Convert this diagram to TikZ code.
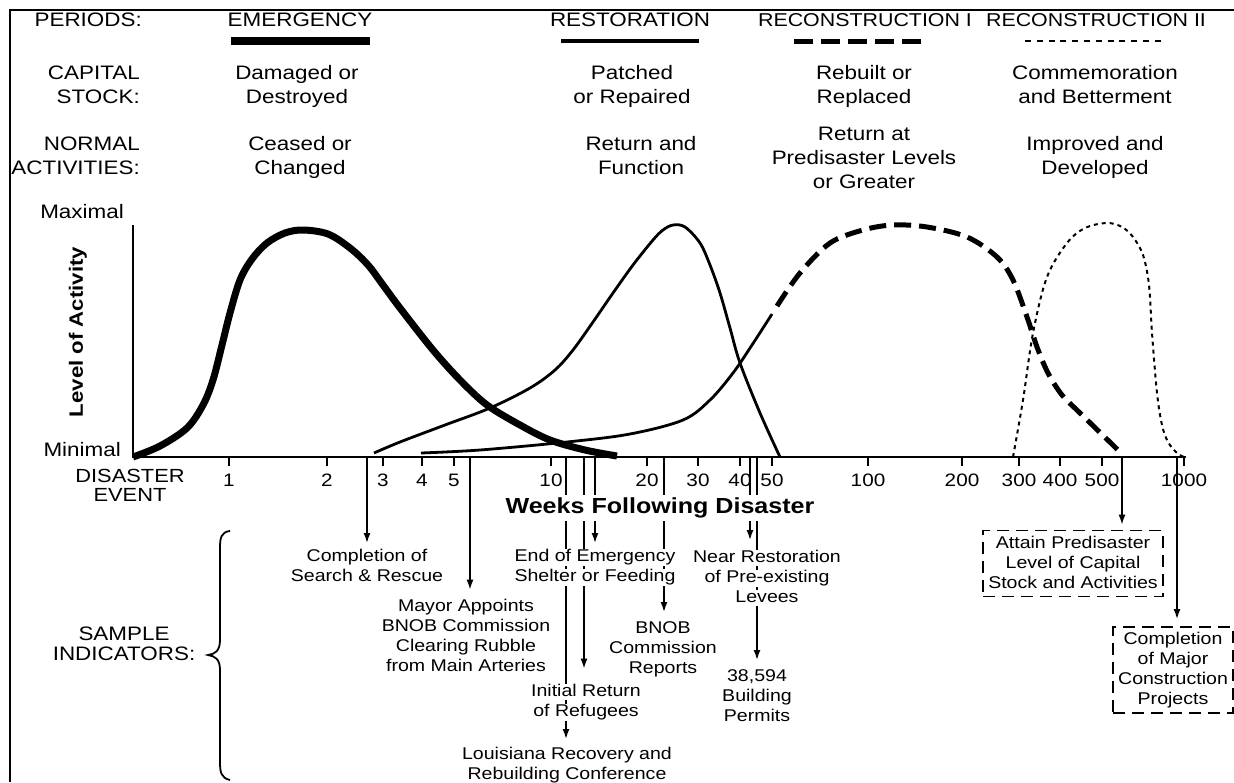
\documentclass[tikz,border=0pt]{standalone}
\usepackage{fontspec}
\setmainfont{Liberation Sans}[FakeStretch=1.15]
\usetikzlibrary{arrows.meta,calc}
\pgfdeclarelayer{back}
\pgfsetlayers{back,main}
\setlength{\fboxsep}{0.5pt}
\newcommand{\wbx}[1]{\colorbox{white}{\rule[-3pt]{0pt}{15pt}#1}}
\newcommand{\hst}{\rule{0pt}{14pt}}
\newcommand{\sst}{\rule[-3.5pt]{0pt}{16pt}}
\tikzset{
 hdr/.style={font=\fontsize{19.5}{24}\selectfont, inner sep=0pt, align=center, anchor=north},
 hdrr/.style={hdr, align=right, anchor=north east},
 ind/.style={font=\fontsize{17}{20}\selectfont, inner sep=0pt, align=center, anchor=north},
 dbox/.style={font=\fontsize{17}{20}\selectfont, draw, line width=1.8pt, dash pattern=on 12pt off 7pt, fill=white, align=center, inner xsep=5pt, inner ysep=5pt},
 tlab/.style={font=\fontsize{18}{20}\selectfont, inner sep=0pt},
 arr/.style={line width=1.5pt, -{Latex[length=10pt,width=7pt]}},
 axisline/.style={line width=1.6pt},
 emerg/.style={line width=7pt},
 resto/.style={line width=2.8pt},
 reconA/.style={line width=5pt, dash pattern=on 17pt off 8pt},
 reconB/.style={line width=2pt, dash pattern=on 4pt off 4pt},
}
\begin{document}
\begin{tikzpicture}[x=1pt,y=-1pt]
\useasboundingbox (0,0) rectangle (1234,782);
\begin{pgfonlayer}{back}
\fill[white] (0,0) rectangle (1234,782);
\end{pgfonlayer}
% frame
\draw[line width=2.5pt] (10,782) -- (10,10) -- (1234,10);
% header row
\node[hdrr] (hper) at (142,13) {PERIODS:};
\node[hdr] (hem) at (300,13) {EMERGENCY};
\node[hdr] (hre) at (630,13) {RESTORATION};
\node[hdr, font=\fontsize{18.6}{24}\selectfont] (hr1) at (865,13.5) {RECONSTRUCTION I};
\node[hdr, font=\fontsize{18.6}{24}\selectfont] (hr2) at (1096,13.5) {RECONSTRUCTION II};
\draw[line width=8pt] (231,41) -- (370,41);
\draw[line width=3.5pt] (561,41) -- (699,41);
\draw[line width=5pt, dash pattern=on 19pt off 8pt] (794,41) -- (924,41);
\draw[line width=2pt, dash pattern=on 6pt off 5.8pt] (1025,41) -- (1165,41);
% capital stock
\node[hdrr] (hcap) at (140,65) {\hst CAPITAL\\STOCK:};
\node[hdr] (cem) at (297,65) {\hst Damaged or\\Destroyed};
\node[hdr] (cre) at (632,65) {\hst Patched\\or Repaired};
\node[hdr] (cr1) at (864,65) {\hst Rebuilt or\\Replaced};
\node[hdr] (cr2) at (1095,65) {\hst Commemoration\\and Betterment};
% normal activities
\node[hdrr] (hnor) at (140,136) {\hst NORMAL\\ACTIVITIES:};
\node[hdr] (aem) at (300,136) {\hst Ceased or\\Changed};
\node[hdr] (are) at (641,136) {\hst Return and\\Function};
\node[hdr] (ar1) at (864,126) {\hst Return at\\Predisaster Levels\\or Greater};
\node[hdr] (ar2) at (1095,136) {\hst Improved and\\Developed};
% axis labels
\node[hdr, anchor=east] (lmax) at (124,212) {Maximal};
\node[hdr, anchor=east] (lmin) at (121,450) {Minimal};
\node[font=\bfseries\fontsize{19.3}{20}\selectfont, rotate=90, inner sep=0pt] (lact) at (78,332) {Level of Activity};
\node[hdr, font=\fontsize{19}{19}\selectfont] (ldis) at (130,468) {\hst DISASTER\\EVENT};
\node[hdr, font=\fontsize{19.5}{20}\selectfont] (lsam) at (124,626) {\hst SAMPLE\\INDICATORS:};
% curves
\draw[emerg] plot[smooth, tension=0.55] coordinates {(133,457) (160,446) (187,428) (203,405) (213,380) (222,345) (230,313) (240,280) (252,259) (267,243) (285,233) (303,230) (328,234) (350,248) (368,265) (383,285) (400,308) (433,350) (460,380) (487,405) (520,425) (550,440) (585,450) (617,456)};
\draw[resto] plot[smooth, tension=0.55] coordinates {(374,453) (400,442) (445,425) (490,408) (530,388) (555,370) (573,350) (593,322) (613,293) (633,265) (653,240) (663,230) (673,225) (685,227) (700,243) (710,265) (720,293) (730,328) (740,363) (760,413) (780,457)};
\draw[resto] plot[smooth, tension=0.55] coordinates {(421,453) (480,450) (567,442) (630,434) (683,420) (710,400) (733,373) (752,345) (772,314)};
\draw[reconA] plot[smooth, tension=0.55] coordinates {(777,306) (800,273) (830,243) (863,230) (893,225) (927,227) (967,237) (997,257) (1013,280) (1027,317) (1037,347) (1048,373) (1062,395) (1080,413) (1118,450)};
\draw[reconB] plot[smooth, tension=0.55] coordinates {(1013,457) (1023,400) (1033,333) (1047,277) (1067,243) (1085,228) (1107,223) (1122,227) (1133,237) (1143,255) (1149,285) (1152,333) (1157,393) (1162,425) (1168,442) (1177,453) (1184,457)};
% axes
\coordinate (orig) at (133,457);
\coordinate (ytop) at (133,225);
\coordinate (xend) at (1186,457);
\draw[axisline] (ytop) -- (orig) -- (xend);
\foreach \x/\l in {229/1, 327/2, 383/3, 422/4, 454/5, 551/10, 647/20, 698/30, 740/40, 772/50, 868/100, 962/200, 1019/300, 1060/400, 1102/500, 1184/1000} {
  \draw[axisline] (\x,457) -- (\x,466);
  \node[tlab] (t\l) at (\x,480) {\l};
}
\node[font=\bfseries\fontsize{21.8}{22}\selectfont, fill=white, inner sep=3pt] (wk) at (660,508) {Weeks Following Disaster};
% brace
\draw[line width=1.8pt] (230,531) .. controls (221,532) and (220,538) .. (220,548) -- (220,640) .. controls (220,651) and (215,654) .. (208,655) .. controls (215,656) and (220,659) .. (220,670) -- (220,762) .. controls (220,772) and (221,778) .. (230,780);
% indicators
\node[ind] (n1) at (367,548.6) {\wbx{Completion of}\\\wbx{Search \& Rescue}};
\node[ind] (n2) at (466,598.6) {\wbx{Mayor Appoints}\\\wbx{BNOB Commission}\\\wbx{Clearing Rubble}\\\wbx{from Main Arteries}};
\node[ind] (n3) at (595,548.6) {\wbx{End of Emergency}\\\wbx{Shelter or Feeding}};
\node[ind] (n4) at (586,683.6) {\wbx{Initial Return}\\\wbx{of Refugees}};
\node[ind] (n5) at (567,746) {\wbx{Louisiana Recovery and}\\\wbx{Rebuilding Conference}};
\node[ind] (n6) at (663,620.6) {\wbx{BNOB}\\\wbx{Commission}\\\wbx{Reports}};
\node[ind] (n7) at (767,549.6) {\wbx{Near Restoration}\\\wbx{of Pre-existing}\\\wbx{Levees}};
\node[ind] (n8) at (757,668.6) {\wbx{38,594}\\\wbx{Building}\\\wbx{Permits}};
\node[dbox] (n9) at (1073,563.5) {\sst Attain Predisaster\\\sst Level of Capital\\\sst Stock and Activities};
\node[dbox] (n10) at (1173,670) {\sst Completion\\\sst of Major\\\sst Construction\\\sst Projects};
\coordinate (c1) at (367,457);
\coordinate (c2) at (470,457);
\coordinate (c3) at (595,457);
\coordinate (c4) at (584,457);
\coordinate (c5) at (566,457);
\coordinate (c6) at (664,457);
\coordinate (c7) at (750,457);
\coordinate (c8) at (757,457);
\coordinate (c9) at (1122,457);
\coordinate (c10) at (1177,457);
\begin{pgfonlayer}{back}
\draw[arr] (c1) -- ($(c1 |- n1.north)+(0,-5.6)$);
\draw[arr] (c2) -- ($(c2 |- n2.north)+(0,-9)$);
\draw[arr] (c3) -- ($(c3 |- n3.north)+(0,-5.6)$);
\draw[arr] (c4) -- ($(c4 |- n4.north)+(0,-15)$);
\draw[arr] (c5) -- ($(c5 |- n5.north)+(0,-7)$);
\draw[arr] (c6) -- ($(c6 |- n6.north)+(0,-8.6)$);
\draw[arr] (c7) -- ($(c7 |- n7.north)+(0,-9.6)$);
\draw[arr] (c8) -- ($(c8 |- n8.north)+(0,-8.6)$);
\draw[arr] (c9) -- ($(c9 |- n9.north)+(0,-5)$);
\draw[arr] (c10) -- ($(c10 |- n10.north)+(0,-7)$);
\end{pgfonlayer}
\end{tikzpicture}
\end{document}
